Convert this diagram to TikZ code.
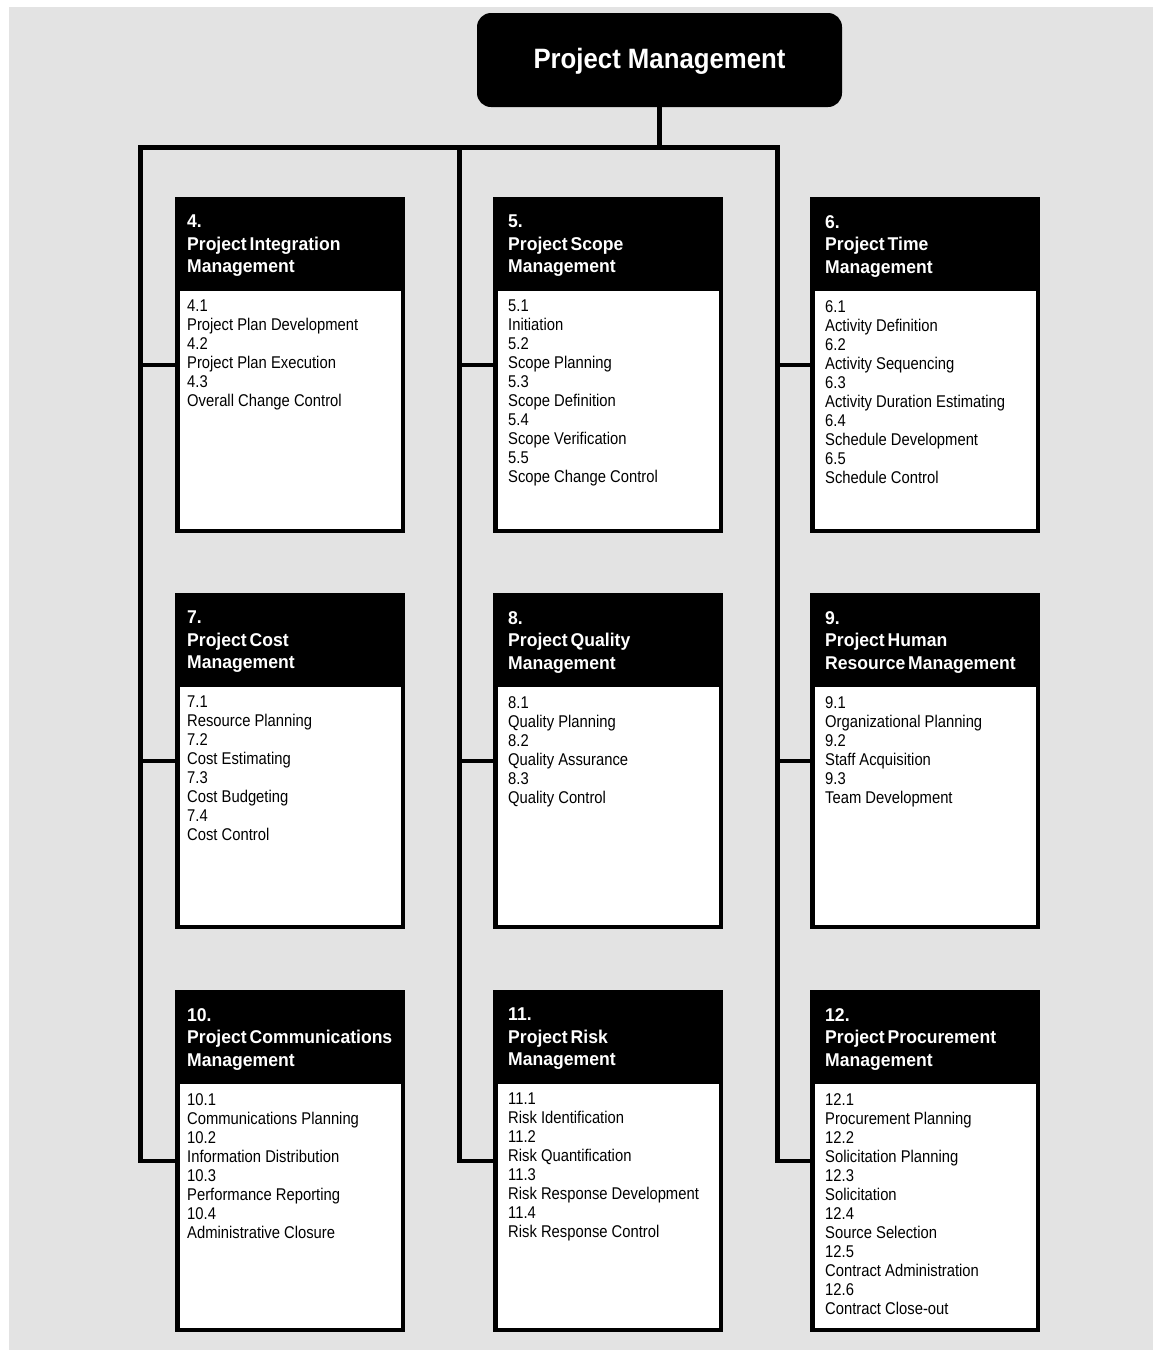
\documentclass[tikz,border=0pt]{standalone}
\usepackage{fontspec}
\setmainfont{Liberation Sans}
\newfontfamily\headfont[FakeStretch=0.95,WordSpace=0.6]{Liberation Sans}
\newfontfamily\itemfont[FakeStretch=0.87]{Liberation Sans}
\newfontfamily\rootfont[FakeStretch=0.92]{Liberation Sans}
\definecolor{paper}{RGB}{227,227,227}

\tikzset{
  conn/.style={line width=4.5pt, line join=miter},
  boxbody/.style={draw=black, line width=4.5pt, fill=white, minimum width=225.5pt,
    inner sep=0pt, outer sep=0pt},
  boxhead/.style={fill=black, minimum width=230pt, minimum height=94pt,
    inner sep=0pt, outer sep=0pt, anchor=north west},
  headtext/.style={text=white, font=\headfont\bfseries\fontsize{18.5}{22.5}\selectfont,
    align=left, inner sep=0pt, anchor=north west},
  itemtext/.style={text=black, font=\itemfont\fontsize{17}{19}\selectfont,
    align=left, inner sep=0pt, anchor=north west},
  rootbox/.style={fill=black, rounded corners=14pt, minimum width=365pt,
    minimum height=94pt, text=white, font=\rootfont\bfseries\fontsize{28}{32}\selectfont,
    text height=20pt, text depth=4pt, inner sep=0pt}
}

% one knowledge-area box: #1 id, #2 left, #3 top, #4 outer height,
% #5 text indent, #6 title, #7 processes
\newcommand\wbsbox[7]{%
  \node[boxbody, minimum height={#4-4.5}] (c#1) at ({#2+115},{#3+#4/2}) {};
  \node[boxhead] (h#1) at (#2,#3) {};
  \node[headtext] (n#1) at ({#2+#5},{#3+18}) {#6};
  \node[itemtext] (t#1) at ({#2+#5},{#3+103}) {#7};
}

\begin{document}
\begin{tikzpicture}[x=1pt, y=-1pt]
  \useasboundingbox (0,0) rectangle (1153,1350);
  \fill[white] (0,0) rectangle (1153,1350);
  \fill[paper] (9,7) rectangle (1153,1350);

  \node[rootbox] (pm) at (659.5,60) {Project Management};

  % row 1
  \wbsbox{4}{175}{197}{336}{12}{4.\\Project Integration\\Management}
    {4.1\\Project Plan Development\\4.2\\Project Plan Execution\\4.3\\Overall Change Control}
  \wbsbox{5}{493}{197}{336}{15}{5.\\Project Scope\\Management}
    {5.1\\Initiation\\5.2\\Scope Planning\\5.3\\Scope Definition\\5.4\\Scope Verification\\5.5\\Scope Change Control}
  \wbsbox{6}{810}{197}{336}{15}{6.\\Project Time\\Management}
    {6.1\\Activity Definition\\6.2\\Activity Sequencing\\6.3\\Activity Duration Estimating\\6.4\\Schedule Development\\6.5\\Schedule Control}
  % row 2
  \wbsbox{7}{175}{593}{336}{12}{7.\\Project Cost\\Management}
    {7.1\\Resource Planning\\7.2\\Cost Estimating\\7.3\\Cost Budgeting\\7.4\\Cost Control}
  \wbsbox{8}{493}{593}{336}{15}{8.\\Project Quality\\Management}
    {8.1\\Quality Planning\\8.2\\Quality Assurance\\8.3\\Quality Control}
  \wbsbox{9}{810}{593}{336}{15}{9.\\Project Human\\Resource Management}
    {9.1\\Organizational Planning\\9.2\\Staff Acquisition\\9.3\\Team Development}
  % row 3
  \wbsbox{10}{175}{990}{342}{12}{10.\\Project Communications\\Management}
    {10.1\\Communications Planning\\10.2\\Information Distribution\\10.3\\Performance Reporting\\10.4\\Administrative Closure}
  \wbsbox{11}{493}{990}{342}{15}{11.\\Project Risk\\Management}
    {11.1\\Risk Identification\\11.2\\Risk Quantification\\11.3\\Risk Response Development\\11.4\\Risk Response Control}
  \wbsbox{12}{810}{990}{342}{15}{12.\\Project Procurement\\Management}
    {12.1\\Procurement Planning\\12.2\\Solicitation Planning\\12.3\\Solicitation\\12.4\\Source Selection\\12.5\\Contract Administration\\12.6\\Contract Close-out}

  % connector tree: root stem, top bar, three trunks and their branches
  \coordinate (barL) at (140.5,147.5);
  \coordinate (barM) at (459.5,147.5);
  \coordinate (barR) at (777.5,147.5);
  \draw[conn] (pm.south) -- (pm.south |- barL);
  \draw[conn] (c10.west) -| (barL) -- (barR) |- (c12.west);
  \draw[conn] (barM) |- (c11.west);
  \draw[conn] (c4.west -| barL) -- (c4.west);
  \draw[conn] (c7.west -| barL) -- (c7.west);
  \draw[conn] (c5.west -| barM) -- (c5.west);
  \draw[conn] (c8.west -| barM) -- (c8.west);
  \draw[conn] (c6.west -| barR) -- (c6.west);
  \draw[conn] (c9.west -| barR) -- (c9.west);
\end{tikzpicture}
\end{document}
